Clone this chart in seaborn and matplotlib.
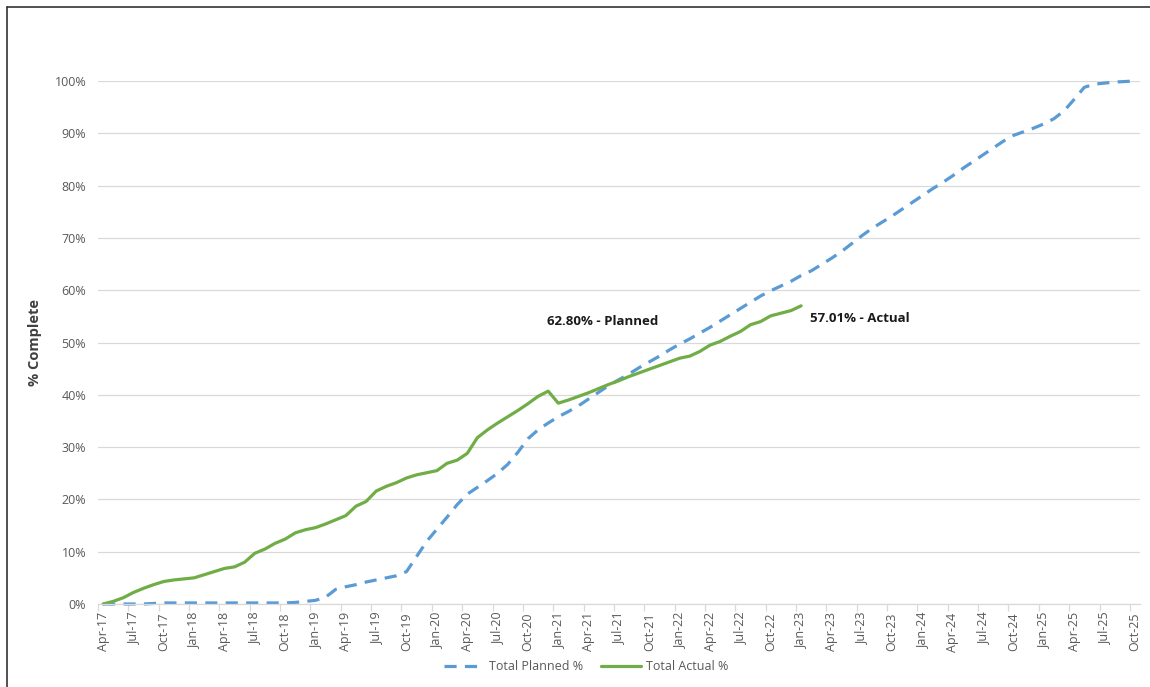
import matplotlib
matplotlib.use("Agg")
import matplotlib.pyplot as plt
import seaborn as sns
import pandas as pd
import numpy as np
from matplotlib.lines import Line2D
from matplotlib.ticker import FixedLocator, PercentFormatter

# ---- data (monthly, index 0 = Apr-17) ----
planned = [0.0, 0.0, 0.0, 0.0, 0.0, 0.1, 0.2, 0.2, 0.2, 0.2,
           0.2, 0.2, 0.2, 0.2, 0.2, 0.2, 0.2, 0.2, 0.2, 0.3,
           0.5, 0.7, 1.3, 2.8, 3.3, 3.7, 4.2, 4.6, 5.0, 5.4,
           6.2, 9.1, 12.0, 14.3, 16.6, 19.0, 21.0, 22.3, 23.6, 25.0,
           26.7, 29.0, 31.6, 33.3, 34.6, 35.8, 36.8, 37.9, 39.2, 40.5,
           41.8, 42.9, 44.0, 45.2, 46.3, 47.4, 48.6, 49.7, 50.7, 51.8,
           52.9, 54.1, 55.3, 56.5, 57.7, 58.9, 59.9, 60.8, 61.7, 62.8,
           63.7, 64.9, 66.1, 67.4, 68.9, 70.4, 71.8, 73.0, 74.2, 75.5,
           76.8, 78.1, 79.4, 80.6, 81.9, 83.3, 84.6, 85.9, 87.2, 88.5,
           89.6, 90.3, 91.0, 91.8, 92.8, 94.3, 96.5, 98.8, 99.4, 99.6,
           99.8, 99.9, 100.0]
actual = [0.0, 0.5, 1.2, 2.2, 3.0, 3.7, 4.3, 4.6, 4.8, 5.0,
          5.6, 6.2, 6.8, 7.1, 8.0, 9.7, 10.5, 11.6, 12.4, 13.6,
          14.2, 14.6, 15.3, 16.1, 16.9, 18.7, 19.6, 21.6, 22.5, 23.2,
          24.1, 24.7, 25.1, 25.5, 26.9, 27.5, 28.8, 31.8, 33.3, 34.6,
          35.8, 37.0, 38.3, 39.7, 40.7, 38.4, 39.0, 39.7, 40.4, 41.2,
          42.0, 42.7, 43.5, 44.2, 44.9, 45.6, 46.3, 47.0, 47.4, 48.3,
          49.5, 50.2, 51.2, 52.1, 53.4, 54.0, 55.1, 55.6, 56.1, 57.01]
tick_labels = ["Apr-17", "Jul-17", "Oct-17", "Jan-18", "Apr-18", "Jul-18", "Oct-18",
               "Jan-19", "Apr-19", "Jul-19", "Oct-19", "Jan-20", "Apr-20", "Jul-20",
               "Oct-20", "Jan-21", "Apr-21", "Jul-21", "Oct-21", "Jan-22", "Apr-22",
               "Jul-22", "Oct-22", "Jan-23", "Apr-23", "Jul-23", "Oct-23", "Jan-24",
               "Apr-24", "Jul-24", "Oct-24", "Jan-25", "Apr-25", "Jul-25", "Oct-25"]
tick_step = 3
planned_label = "62.80% - Planned"
actual_label = "57.01% - Actual"

BLUE = "#5B9BD5"
GREEN = "#70AD47"
GRID = "#D9D9D9"
TXT = "#595959"

sns.set_theme(style="white")
plt.rcParams['font.family'] = ['Open Sans', 'DejaVu Sans']

df_p = pd.DataFrame({"m": np.arange(len(planned)), "v": np.array(planned) / 100})
df_a = pd.DataFrame({"m": np.arange(len(actual)), "v": np.array(actual) / 100})

fig = plt.figure(figsize=(11.5, 6.87), dpi=100)
ax = fig.add_axes([98 / 1150, 1 - 604 / 687, (1140 - 98) / 1150, (604 - 81) / 687])

sns.lineplot(data=df_p, x="m", y="v", ax=ax, color=BLUE, linewidth=2.3,
             label="Total Planned %", clip_on=False)
ax.lines[-1].set_dashes((3.8, 2.6))
sns.lineplot(data=df_a, x="m", y="v", ax=ax, color=GREEN, linewidth=2.3,
             label="Total Actual %", clip_on=False)

ax.set_xlim(-0.5, len(planned) - 0.5)
ax.set_ylim(0, 1.0)
ax.yaxis.set_major_locator(FixedLocator(np.arange(0, 1.01, 0.1)))
ax.yaxis.set_major_formatter(PercentFormatter(1.0, decimals=0))
ax.grid(axis="y", color=GRID, linewidth=0.9)
ax.set_axisbelow(True)

pos = np.arange(0, len(planned), tick_step)
ax.set_xticks(pos)
ax.set_xticklabels(tick_labels, rotation=90)
ax.set_xticks(pos - 0.5, minor=True)
ax.tick_params(axis="x", which="major", length=0, pad=6, labelsize=9, labelcolor=TXT)
ax.tick_params(axis="x", which="minor", length=5, color=GRID, width=0.9, bottom=True)
ax.tick_params(axis="y", length=0, pad=8.5, labelsize=9, labelcolor=TXT)

for s in ["top", "right", "left"]:
    ax.spines[s].set_visible(False)
ax.spines["bottom"].set_color(GRID)
ax.spines["bottom"].set_linewidth(0.9)

ax.set_xlabel("")
ax.set_ylabel("% Complete", fontsize=10.5, fontweight="bold", color="#404040", labelpad=9)

ax.text(43.9, 0.541, planned_label, fontsize=9.5, fontweight="bold", color="#1a1a1a",
        va="center", ha="left")
ax.text(69.9, 0.545, actual_label, fontsize=9.5, fontweight="bold", color="#1a1a1a",
        va="center", ha="left")

leg = ax.legend(loc="center", bbox_to_anchor=(586 / 1150, 1 - 667 / 687),
                bbox_transform=fig.transFigure, ncol=2, frameon=False,
                fontsize=9, handlelength=3.2, columnspacing=1.4, handletextpad=0.4)
for t in leg.get_texts():
    t.set_color(TXT)

# outer frame lines (left and top)
fig.add_artist(Line2D([7 / 1150, 7 / 1150], [0, 1 - 7 / 687], transform=fig.transFigure,
                      color="#333333", linewidth=1.2))
fig.add_artist(Line2D([7 / 1150, 1], [1 - 7 / 687, 1 - 7 / 687], transform=fig.transFigure,
                      color="#333333", linewidth=1.2))

fig.savefig("out.png", dpi=100)
